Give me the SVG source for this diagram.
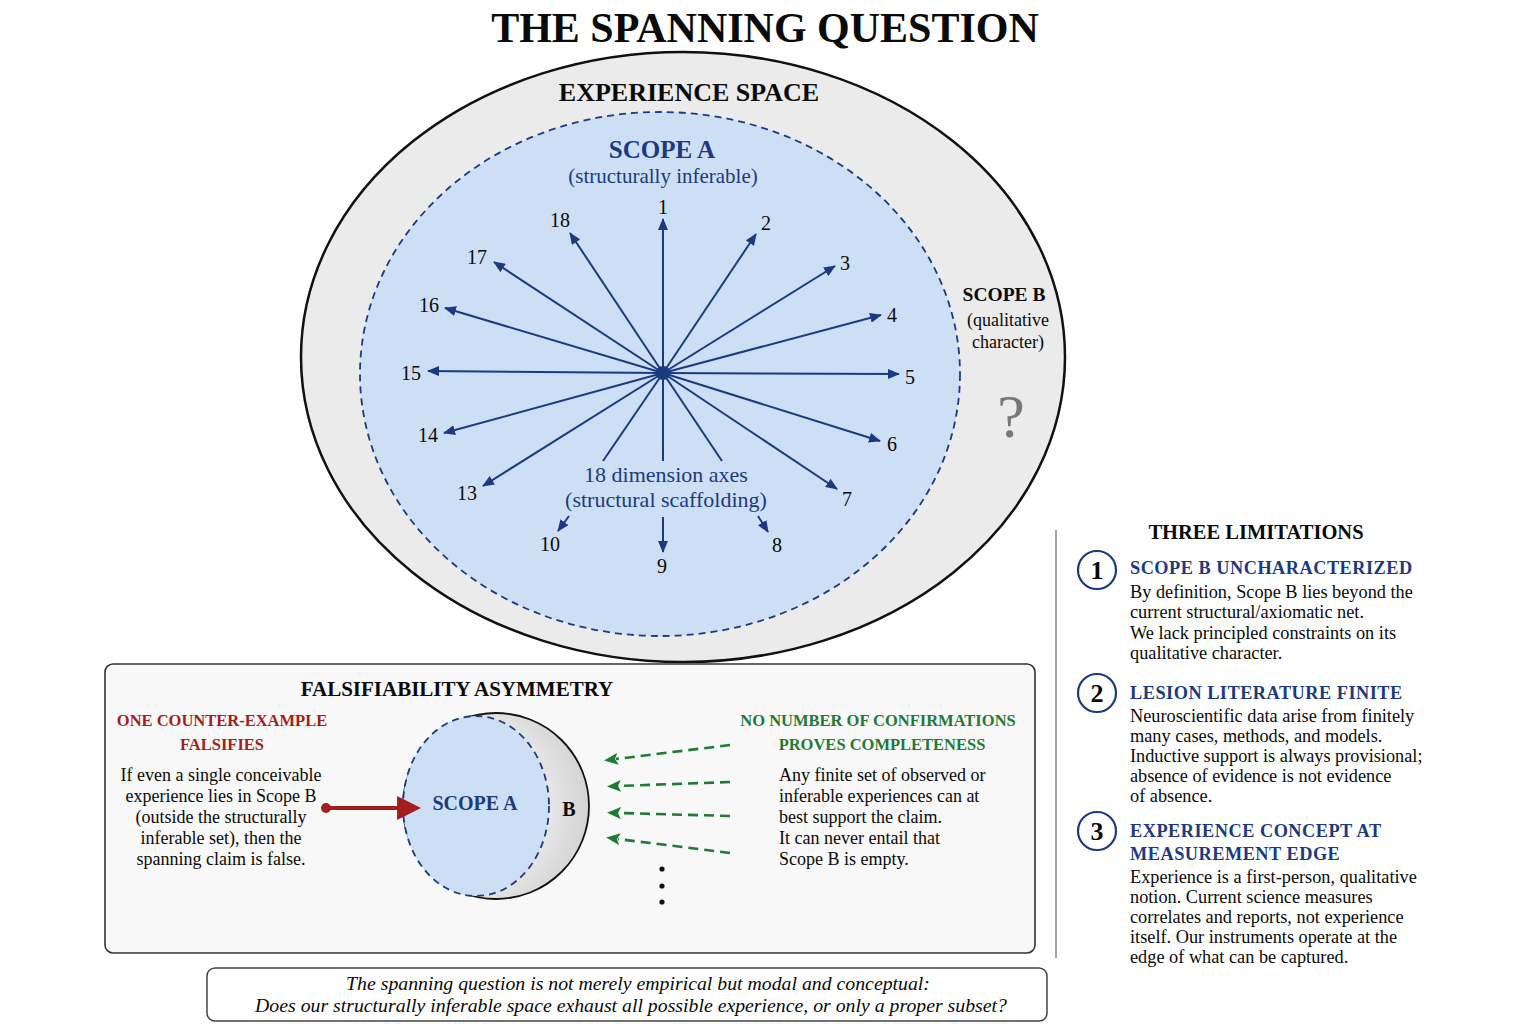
<svg xmlns="http://www.w3.org/2000/svg" width="1536" height="1024" viewBox="0 0 1536 1024">
<style>
text{font-family:"Liberation Serif","Times New Roman",serif;fill:#0a0a0a}
.b{font-weight:bold}
.navy{fill:#1b3a80}
.red{fill:#a51c1c}
.green{fill:#1e7a34}
.c{text-anchor:middle}
.ax{font-size:20px}
.body{font-size:18px}
.rb{font-size:18.3px}
.hd{font-size:18.3px;letter-spacing:0.5px}
.ln{stroke:#1b3a80;stroke-width:2;fill:none}
.gd{stroke:#1e7a34;stroke-width:2.6;fill:none;stroke-dasharray:10 6}
</style>
<defs>
<marker id="ah" viewBox="0 0 12 10" refX="11" refY="5" markerWidth="12" markerHeight="10" orient="auto" markerUnits="userSpaceOnUse"><path d="M0,0 L12,5 L0,10 z" fill="#1b3a80"/></marker>
<marker id="gh" viewBox="0 0 14 12" refX="2" refY="6" markerWidth="14" markerHeight="12" orient="auto-start-reverse" markerUnits="userSpaceOnUse"><path d="M0,0 L14,6 L0,12 L3,6 z" fill="#1e7a34"/></marker>
<radialGradient id="gB" cx="0.35" cy="0.5" r="0.7"><stop offset="0.6" stop-color="#e8e8e8"/><stop offset="1" stop-color="#cfcfcf"/></radialGradient>
</defs>
<rect width="1536" height="1024" fill="#ffffff"/>
<text class="b c" x="765" y="42" font-size="42">THE SPANNING QUESTION</text>

<g id="experience-space">
<ellipse cx="683" cy="357" rx="382" ry="305" fill="#ebebeb" stroke="#111" stroke-width="2.5"/>
<text class="b c" x="689" y="101" font-size="26">EXPERIENCE SPACE</text>
</g>
<g id="scope-a">
<ellipse cx="660" cy="374" rx="300" ry="262" fill="#cddff5" stroke="#1b3a80" stroke-width="1.8" stroke-dasharray="7 5"/>
<text class="b c navy" x="662" y="158" font-size="25">SCOPE A</text>
<text class="c navy" x="663" y="183" font-size="21">(structurally inferable)</text>
<text class="c navy" x="666" y="482" font-size="22">18 dimension axes</text>
<text class="c navy" x="666" y="507" font-size="22">(structural scaffolding)</text>
</g>
<g id="scope-b">
<text class="b c" x="1004" y="301" font-size="19.5">SCOPE B</text>
<text class="c" x="1008" y="326" font-size="18">(qualitative</text>
<text class="c" x="1008" y="348" font-size="18">character)</text>
<text class="c" x="1011" y="437" font-size="62" style="fill:#777">?</text>
</g>

<g id="axes">
<g class="ln" marker-end="url(#ah)">
<line x1="663" y1="373" x2="663" y2="219"/>
<line x1="663" y1="373" x2="756" y2="234"/>
<line x1="663" y1="373" x2="835" y2="266"/>
<line x1="663" y1="373" x2="881" y2="315"/>
<line x1="663" y1="373" x2="899" y2="374"/>
<line x1="663" y1="373" x2="880" y2="441"/>
<line x1="663" y1="373" x2="837" y2="489"/>
<line x1="758" y1="516" x2="768" y2="532"/>
<line x1="663" y1="517" x2="663" y2="552"/>
<line x1="569" y1="516" x2="558" y2="531"/>
<line x1="663" y1="373" x2="483" y2="486"/>
<line x1="663" y1="373" x2="444" y2="433"/>
<line x1="663" y1="373" x2="428" y2="371"/>
<line x1="663" y1="373" x2="445" y2="308"/>
<line x1="663" y1="373" x2="494" y2="262"/>
<line x1="663" y1="373" x2="570" y2="233"/>
</g>
<g class="ln">
<line x1="663" y1="373" x2="603" y2="461"/>
<line x1="663" y1="373" x2="663" y2="461"/>
<line x1="663" y1="373" x2="722" y2="461"/>
</g>
<circle cx="663" cy="373" r="7" fill="#1b3a80"/>
</g>
<g id="axis-labels" class="ax">
<text class="c" x="663" y="214">1</text>
<text class="c" x="766" y="230">2</text>
<text class="c" x="845" y="270">3</text>
<text class="c" x="892" y="322">4</text>
<text class="c" x="910" y="384">5</text>
<text class="c" x="892" y="451">6</text>
<text class="c" x="847" y="506">7</text>
<text class="c" x="777" y="552">8</text>
<text class="c" x="662" y="573">9</text>
<text class="c" x="550" y="551">10</text>
<text class="c" x="467" y="500">13</text>
<text class="c" x="428" y="442">14</text>
<text class="c" x="411" y="380">15</text>
<text class="c" x="429" y="312">16</text>
<text class="c" x="477" y="264">17</text>
<text class="c" x="560" y="227">18</text>
</g>

<g id="falsifiability">
<rect x="105" y="664" width="930" height="289" rx="8" fill="#f8f8f8" stroke="#333" stroke-width="1.6"/>
<text class="b c" x="457" y="696" font-size="21">FALSIFIABILITY ASYMMETRY</text>
<text class="b c red" x="222" y="726" font-size="16.5">ONE COUNTER-EXAMPLE</text>
<text class="b c red" x="222" y="750" font-size="16.5">FALSIFIES</text>
<g class="body c">
<text x="221" y="781">If even a single conceivable</text>
<text x="221" y="802">experience lies in Scope B</text>
<text x="221" y="823">(outside the structurally</text>
<text x="221" y="844">inferable set), then the</text>
<text x="221" y="865">spanning claim is false.</text>
</g>
<text class="b c green" x="878" y="726" font-size="16.5">NO NUMBER OF CONFIRMATIONS</text>
<text class="b c green" x="882" y="750" font-size="16.5">PROVES COMPLETENESS</text>
<g class="body">
<text x="779" y="781">Any finite set of observed or</text>
<text x="779" y="802">inferable experiences can at</text>
<text x="779" y="823">best support the claim.</text>
<text x="779" y="844">It can never entail that</text>
<text x="779" y="865">Scope B is empty.</text>
</g>
</g>
<g id="venn">
<circle cx="496" cy="806" r="93" fill="url(#gB)" stroke="#111" stroke-width="1.8"/>
<ellipse cx="476" cy="806" rx="73" ry="90" fill="#cddff5" stroke="#1b3a80" stroke-width="1.8" stroke-dasharray="7 5"/>
<text class="b c navy" x="475" y="810" font-size="20">SCOPE A</text>
<text class="b c" x="569" y="816" font-size="20">B</text>
</g>

<g id="connectors">
<line x1="326" y1="808" x2="400" y2="808" stroke="#a51c1c" stroke-width="4"/>
<circle cx="326" cy="808" r="5" fill="#a51c1c"/>
<path d="M397,796 L421,808 L397,820 z" fill="#a51c1c"/>
<g class="gd" marker-end="url(#gh)">
<line x1="730" y1="745" x2="616" y2="759"/>
<line x1="730" y1="782" x2="619" y2="786"/>
<line x1="730" y1="816" x2="619" y2="813"/>
<line x1="730" y1="853" x2="618" y2="839"/>
</g>
<circle cx="662" cy="869" r="2.6" fill="#111"/>
<circle cx="662" cy="886" r="2.6" fill="#111"/>
<circle cx="662" cy="902" r="2.6" fill="#111"/>
</g>

<g id="limitations">
<line x1="1056" y1="530" x2="1056" y2="958" stroke="#888" stroke-width="1.5"/>
<text class="b c" x="1256" y="539" font-size="20.5">THREE LIMITATIONS</text>
<g fill="#fff" stroke="#1b3a80" stroke-width="2.2">
<circle cx="1097" cy="570" r="19"/>
<circle cx="1097" cy="693" r="19"/>
<circle cx="1097" cy="831" r="19"/>
</g>
<text class="b c" x="1097" y="579" font-size="26">1</text>
<text class="b c" x="1097" y="702" font-size="26">2</text>
<text class="b c" x="1097" y="840" font-size="26">3</text>
<text class="b navy hd" x="1130" y="574">SCOPE B UNCHARACTERIZED</text>
<g class="rb">
<text x="1130" y="598">By definition, Scope B lies beyond the</text>
<text x="1130" y="618">current structural/axiomatic net.</text>
<text x="1130" y="639">We lack principled constraints on its</text>
<text x="1130" y="659">qualitative character.</text>
</g>
<text class="b navy hd" x="1130" y="699">LESION LITERATURE FINITE</text>
<g class="rb">
<text x="1130" y="722">Neuroscientific data arise from finitely</text>
<text x="1130" y="742">many cases, methods, and models.</text>
<text x="1130" y="762">Inductive support is always provisional;</text>
<text x="1130" y="782">absence of evidence is not evidence</text>
<text x="1130" y="802">of absence.</text>
</g>
<text class="b navy hd" x="1130" y="837">EXPERIENCE CONCEPT AT</text>
<text class="b navy hd" x="1130" y="860">MEASUREMENT EDGE</text>
<g class="rb">
<text x="1130" y="883">Experience is a first-person, qualitative</text>
<text x="1130" y="903">notion. Current science measures</text>
<text x="1130" y="923">correlates and reports, not experience</text>
<text x="1130" y="943">itself. Our instruments operate at the</text>
<text x="1130" y="963">edge of what can be captured.</text>
</g>
</g>

<g id="caption">
<rect x="207" y="968" width="840" height="53" rx="8" fill="#fff" stroke="#444" stroke-width="1.5"/>
<text class="c" x="638" y="990" font-size="19.8" font-style="italic">The spanning question is not merely empirical but modal and conceptual:</text>
<text class="c" x="631" y="1012" font-size="19.8" font-style="italic">Does our structurally inferable space exhaust all possible experience, or only a proper subset?</text>
</g>
</svg>
